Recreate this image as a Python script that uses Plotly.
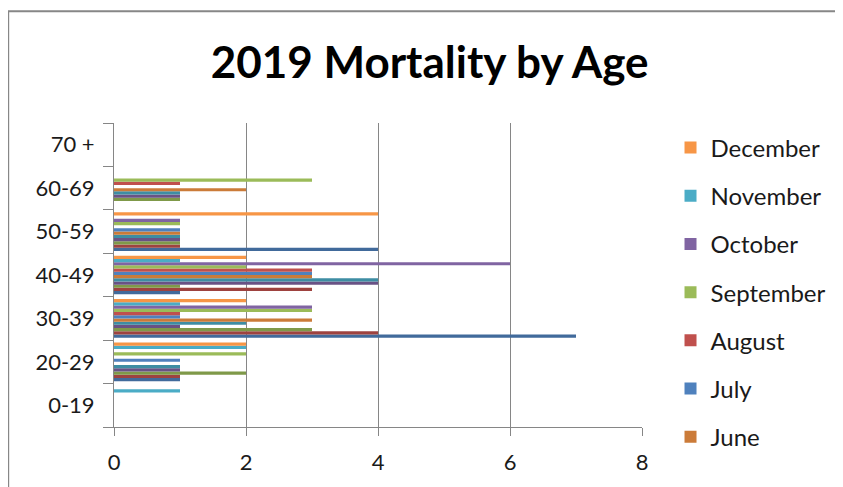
"""
2019 Mortality by Age - horizontal grouped bar chart (Excel style)
"""

import plotly.graph_objects as go

# age bands, bottom to top
age_groups = ['0-19', '20-29', '30-39', '40-49', '50-59', '60-69', '70 +']

months = ['January', 'February', 'March', 'April', 'May', 'June',
          'July', 'August', 'September', 'October', 'November', 'December']

# deaths per age band, one list per month (same order as age_groups)
january = [0, 1, 7, 1, 4, 0, 0]
february = [0, 1, 4, 3, 1, 0, 0]
march = [0, 2, 3, 1, 1, 1, 0]
april = [0, 1, 1, 4, 1, 1, 0]
may = [0, 1, 2, 4, 1, 1, 0]
june = [0, 0, 3, 3, 1, 2, 0]
july = [0, 1, 1, 3, 1, 0, 0]
august = [0, 0, 1, 3, 0, 1, 0]
september = [0, 2, 3, 2, 1, 3, 0]
october = [0, 0, 3, 6, 1, 0, 0]
november = [1, 2, 1, 1, 0, 0, 0]
december = [0, 2, 2, 2, 4, 0, 0]

series_values = [january, february, march, april, may, june,
                 july, august, september, october, november, december]

# Excel 12-series palette: first six shaded, last six plain accents
colors = ['#416A9B', '#9E423F', '#7F9949', '#695285', '#3E8DA3', '#CB7B39',
          '#4F81BD', '#C0504D', '#9BBB59', '#8064A2', '#4BACC6', '#F79646']

# only the legend entries visible in the reference
legend_months = ['June', 'July', 'August', 'September', 'October', 'November', 'December']

font_family = "Lato, 'Open Sans', sans-serif"
grid_color = '#868686'

fig = go.Figure()
for i, (month, vals, col) in enumerate(zip(months, series_values, colors)):
    fig.add_trace(go.Bar(
        y=age_groups,
        x=vals,
        name=month,
        orientation='h',
        marker=dict(color=col, line=dict(width=0)),
        legendgroup=month,
        legendrank=100 - i,  # December first, like Excel
        showlegend=month in legend_months,
    ))

# chart border (cropped at the bottom like the reference)
fig.add_shape(type='rect', xref='paper', yref='paper',
              x0=-0.2004, x1=1.3817, y0=-0.3, y1=1.368,
              line=dict(color='#878787', width=2), layer='below')

# page body has an 8px margin, so the figure is 8px smaller than the window
fig.update_layout(
    width=835,
    height=479,
    barmode='group',
    bargap=0.111,
    bargroupgap=0,
    plot_bgcolor='white',
    paper_bgcolor='white',
    margin=dict(l=106, r=197, t=115, b=52),
    font=dict(family=font_family, size=22, color='#1a1a1a'),
    title=dict(text='<b>2019 Mortality by Age</b>', x=0.505, xanchor='center',
               y=0.885, yanchor='middle',
               font=dict(family=font_family, size=44, color='#000000')),
    xaxis=dict(range=[0, 8], dtick=2, showgrid=True, gridcolor=grid_color, gridwidth=1.3,
               showline=True, linecolor=grid_color, linewidth=1,
               ticks='outside', ticklen=8, tickcolor=grid_color,
               ticklabelstandoff=8, zeroline=False, tickfont=dict(size=22)),
    yaxis=dict(type='category', categoryorder='array', categoryarray=age_groups,
               showgrid=False, showline=True, linecolor=grid_color, linewidth=1,
               ticks='outside', ticklen=10, tickcolor=grid_color, tickson='boundaries',
               ticklabelstandoff=14, tickfont=dict(size=22)),
    legend=dict(x=1.054, xanchor='left', y=0.992, yanchor='top',
                traceorder='grouped', tracegroupgap=14, maxheight=700,
                font=dict(size=24), bgcolor='rgba(0,0,0,0)'),
)

fig.write_html("out.html")
